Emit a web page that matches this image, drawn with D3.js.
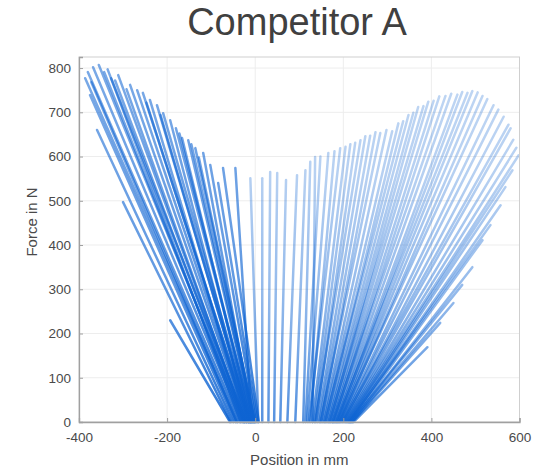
<!DOCTYPE html>
<html>
<head>
<meta charset="utf-8">
<script src="https://cdn.jsdelivr.net/npm/d3@7"></script>
<style>
  body { margin: 0; background: #fff; }
  svg text { font-family: "Liberation Sans", Arial, sans-serif; }
</style>
</head>
<body>
<svg id="svg1" width="538" height="472"></svg>
<script>
// force/position curves, one straight stroke each: start on the x axis, end at (pos, force)

// left fan, leaning to negative positions
const leftStart    = [-40, -35, -30, -45, -50, -25, -28, -20, -22, -55, -18, -15, -12, -20, -10, -8, -15, -5, -10, -3, 0, -5, 2, 5, -57, 8, -8,
                      -42, -33, -26, -24, -14, -11, -6, -2, -1];
const leftEndPos   = [-386, -380, -368, -375, -359, -355, -343, -327, -311, -300, -284, -268, -255, -239, -223, -209, -193, -180, -166, -152, -136, -118, -102, -84, -193, -73, -45,
                      -372, -335, -318, -292, -247, -215, -172, -145, -128];
const leftEndForce = [777, 791, 802, 739, 660, 807, 791, 777, 784, 497, 762, 750, 744, 728, 716, 698, 682, 664, 642, 637, 619, 608, 581, 540, 230, 574, 574,
                      768, 797, 772, 752, 722, 694, 652, 628, 598];

// almost vertical strokes in the middle
const midStart    = [7, 16, 30, 43, 57, 73, 91, 109, 130];
const midEndPos   = [-11, 16, 34, 50, 70, 95, 114, 125, 136];
const midEndForce = [551, 551, 565, 563, 547, 558, 569, 588, 599];

// right fan, leaning to positive positions
const rightStart    = [114, 118, 125, 122, 130, 134, 138, 136, 142, 146, 150, 148, 153, 156, 160, 158, 163, 166, 170, 168,
                       172, 175, 178, 176, 180, 183, 186, 184, 188, 190, 193, 191, 195, 197, 200, 198, 202, 204, 206, 208,
                       210, 212, 214, 213, 216, 218, 217, 220, 221, 223];
const rightEndPos   = [148, 166, 180, 193, 205, 216, 227, 239, 250, 261, 273, 284, 298, 311, 325, 336, 348, 359, 370, 382,
                       393, 405, 418, 432, 445, 459, 470, 482, 493, 505, 516, 527, 541, 552, 564, 575, 580, 586, 593, 598,
                       584, 568, 557, 534, 516, 493, 470, 450, 420, 391];
const rightEndForce = [600, 608, 612, 619, 622, 628, 631, 637, 646, 647, 655, 653, 660, 657, 675, 680, 694, 699, 712, 714,
                       724, 726, 736, 737, 742, 740, 746, 744, 748, 745, 737, 730, 716, 706, 690, 672, 664, 638, 620, 603,
                       569, 531, 490, 445, 411, 350, 310, 269, 224, 169];

const xTicks = [-400, -200, 0, 200, 400, 600];
const yTicks = [0, 100, 200, 300, 400, 500, 600, 700, 800];

const svg = d3.select('#svg1');
const margin = { top: 57, right: 18, bottom: 50, left: 79 };
const width = +svg.attr('width');
const height = +svg.attr('height');

const xScale = d3.scaleLinear()
    .domain([-400, 600])
    .range([margin.left, width - margin.right - 0.5]);

const yScale = d3.scaleLinear()
    .domain([0, 825])
    .range([height - margin.bottom, margin.top]);

// grid
svg.append('g')
    .selectAll('line')
    .data(yTicks)
    .enter().append('line')
    .attr('x1', xScale(-400)).attr('x2', xScale(600))
    .attr('y1', d => yScale(d)).attr('y2', d => yScale(d))
    .attr('stroke', '#ededed');

svg.append('g')
    .selectAll('line')
    .data(xTicks)
    .enter().append('line')
    .attr('x1', d => xScale(d)).attr('x2', d => xScale(d))
    .attr('y1', yScale(0)).attr('y2', yScale(825))
    .attr('stroke', '#ededed');

// colour fades with force: dense dark blue at the axis, pale at the tips
const defs = svg.append('defs');
function addGrad(id, stops) {
    const g = defs.append('linearGradient')
        .attr('id', id)
        .attr('gradientUnits', 'userSpaceOnUse')
        .attr('x1', 0).attr('y1', yScale(0))
        .attr('x2', 0).attr('y2', yScale(800));
    stops.forEach(s => g.append('stop')
        .attr('offset', s[0])
        .attr('stop-color', '#0d63d2')
        .attr('stop-opacity', s[1]));
}
addGrad('gradLeft', [[0, 0.85], [0.4, 0.65], [1, 0.55]]);
addGrad('gradRight', [[0, 0.7], [0.35, 0.45], [0.7, 0.3], [1, 0.26]]);

const toSegs = (s, p, f) => s.map((d, i) => ({ x0: d, x1: p[i], y1: f[i] }));

function drawFan(segs, grad) {
    svg.append('g')
        .selectAll('line')
        .data(segs)
        .enter().append('line')
        .attr('x1', d => xScale(d.x0))
        .attr('y1', yScale(0))
        .attr('x2', d => xScale(d.x1))
        .attr('y2', d => yScale(d.y1))
        .attr('stroke', `url(#${grad})`)
        .attr('stroke-width', 2.5)
        .attr('stroke-linecap', 'round');
}

drawFan(toSegs(rightStart, rightEndPos, rightEndForce), 'gradRight');
drawFan(toSegs(midStart, midEndPos, midEndForce), 'gradRight');
drawFan(toSegs(leftStart, leftEndPos, leftEndForce), 'gradLeft');

// box
svg.append('rect')
    .attr('x', xScale(-400)).attr('y', yScale(825))
    .attr('width', xScale(600) - xScale(-400))
    .attr('height', yScale(0) - yScale(825))
    .attr('fill', 'none')
    .attr('stroke', '#cfcfcf');

const xAxis = d3.axisBottom(xScale).tickValues(xTicks).tickSize(-4).tickPadding(10).tickFormat(d => String(d));
const yAxis = d3.axisLeft(yScale).tickValues(yTicks).tickSize(-4).tickPadding(8).tickFormat(d => String(d));

svg.append('g')
    .attr('class', 'x-axis')
    .attr('transform', `translate(0, ${yScale(0)})`)
    .call(xAxis);

svg.append('g')
    .attr('class', 'y-axis')
    .attr('transform', `translate(${xScale(-400)}, 0)`)
    .call(yAxis);

svg.selectAll('.x-axis path, .y-axis path').attr('stroke', '#a0a0a0').attr('stroke-width', 1.3);
svg.selectAll('.tick line').attr('stroke', '#a0a0a0');
svg.selectAll('.tick text').attr('fill', '#4a4a4a').style('font-size', '13.5px');

svg.append('text')
    .attr('x', (xScale(-400) + xScale(600)) / 2)
    .attr('y', 465)
    .attr('text-anchor', 'middle')
    .attr('fill', '#4a4a4a')
    .style('font-size', '15px')
    .text('Position in mm');

svg.append('text')
    .attr('transform', 'rotate(-90)')
    .attr('x', -222)
    .attr('y', 37)
    .attr('text-anchor', 'middle')
    .attr('fill', '#4a4a4a')
    .style('font-size', '15px')
    .text('Force in N');

svg.append('text')
    .attr('x', 297)
    .attr('y', 35)
    .attr('text-anchor', 'middle')
    .attr('fill', '#404040')
    .style('font-size', '38px')
    .text('Competitor A');
</script>
</body>
</html>
